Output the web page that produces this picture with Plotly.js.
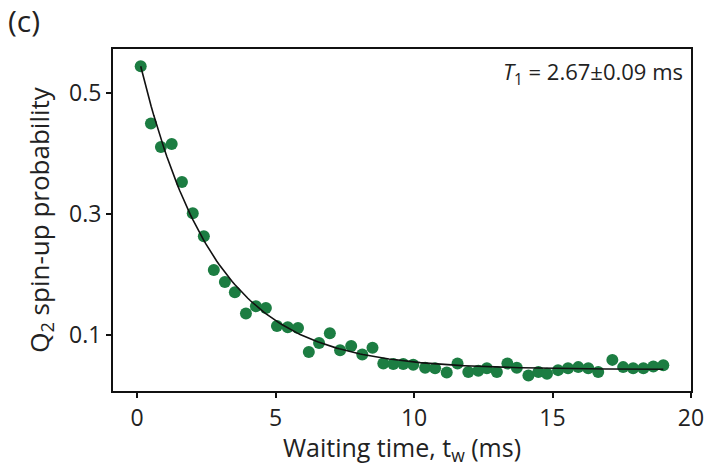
<!DOCTYPE html>
<html>
<head>
<meta charset="utf-8">
<script src="https://cdn.plot.ly/plotly-3.0.1.min.js"></script>
<style>html,body{margin:0;padding:0;background:#fff;}#chart{width:710px;height:467px;}</style>
</head>
<body>
<div id="chart"></div>
<script>
// Measured data (waiting time in ms, spin-up probability)
const waitTime = [0.13,0.50,0.86,1.25,1.62,2.01,2.41,2.77,3.17,3.53,3.93,4.29,4.65,5.05,5.44,5.81,6.20,6.57,6.96,7.33,7.73,8.13,8.50,8.89,9.25,9.61,9.97,10.40,10.76,11.18,11.57,11.96,12.32,12.63,12.99,13.37,13.71,14.13,14.49,14.80,15.20,15.56,15.93,16.29,16.65,17.16,17.55,17.91,18.28,18.64,19.00];
const spinUp   = [0.545,0.450,0.411,0.416,0.353,0.301,0.263,0.207,0.187,0.170,0.135,0.147,0.144,0.114,0.112,0.111,0.071,0.086,0.102,0.074,0.081,0.067,0.078,0.052,0.051,0.051,0.050,0.045,0.044,0.037,0.052,0.038,0.040,0.044,0.038,0.052,0.045,0.032,0.038,0.035,0.041,0.044,0.046,0.044,0.038,0.058,0.046,0.044,0.044,0.047,0.049];
// Exponential fit parameters: y = fitAmp * exp(-t / fitT1) + fitOffset
const fitAmp = 0.528;
const fitT1 = 2.67;
const fitOffset = 0.042;
const fitStart = 0.13, fitEnd = 19.0;
const xTicks = [0,5,10,15,20];
const yTicks = [0.1,0.3,0.5];

const fitX = [], fitY = [];
for (let i = 0; i <= 200; i++) {
  const t = fitStart + (fitEnd - fitStart) * i / 200;
  fitX.push(t);
  fitY.push(fitAmp * Math.exp(-t / fitT1) + fitOffset);
}

const font = "'Open Sans', 'Noto Sans', 'DejaVu Sans', sans-serif";
const txt = '#222';
const traces = [
  {x: waitTime, y: spinUp, mode: 'markers', type: 'scatter',
   marker: {color: '#1c7d42', size: 12, line: {width: 0}}},
  {x: fitX, y: fitY, mode: 'lines', type: 'scatter',
   line: {color: '#111', width: 1.6}}
];
const layout = {
  width: 710, height: 467,
  margin: {l: 113, r: 19, t: 49, b: 76},
  paper_bgcolor: '#fff', plot_bgcolor: '#fff',
  showlegend: false,
  font: {family: font, color: txt, size: 22},
  xaxis: {
    range: [-0.87, 20.0], tickvals: xTicks, ticktext: xTicks.map(String),
    ticks: 'outside', ticklen: 5, tickwidth: 2, tickcolor: '#111',
    showline: true, linecolor: '#111', linewidth: 2, mirror: true,
    showgrid: false, zeroline: false,
    tickfont: {size: 23, family: font, color: txt},
    title: {text: 'Waiting time, t<sub>w</sub> (ms)', font: {size: 25, family: font, color: txt}, standoff: 0}
  },
  yaxis: {
    range: [0.0064, 0.5735], tickvals: yTicks, ticktext: ['0.1','0.3','0.5'],
    ticks: 'outside', ticklen: 5, tickwidth: 2, tickcolor: '#111',
    showline: true, linecolor: '#111', linewidth: 2, mirror: true,
    showgrid: false, zeroline: false,
    tickfont: {size: 23, family: font, color: txt},
    title: {text: 'Q<sub>2</sub> spin-up probability', font: {size: 26, family: font, color: txt}, standoff: 12}
  },
  annotations: [
    {xref: 'paper', yref: 'paper', x: 0.99, y: 0.985, xanchor: 'right', yanchor: 'top',
     text: '<i>T</i><sub>1</sub> = 2.67±0.09 ms', showarrow: false,
     font: {size: 22, family: font, color: txt}},
    {xref: 'paper', yref: 'paper', x: -0.185, y: 1.15, xanchor: 'left', yanchor: 'top',
     text: '(c)', showarrow: false, font: {size: 30, family: font, color: txt}}
  ]
};
Plotly.newPlot('chart', traces, layout, {staticPlot: true, displayModeBar: false});
</script>
</body>
</html>
